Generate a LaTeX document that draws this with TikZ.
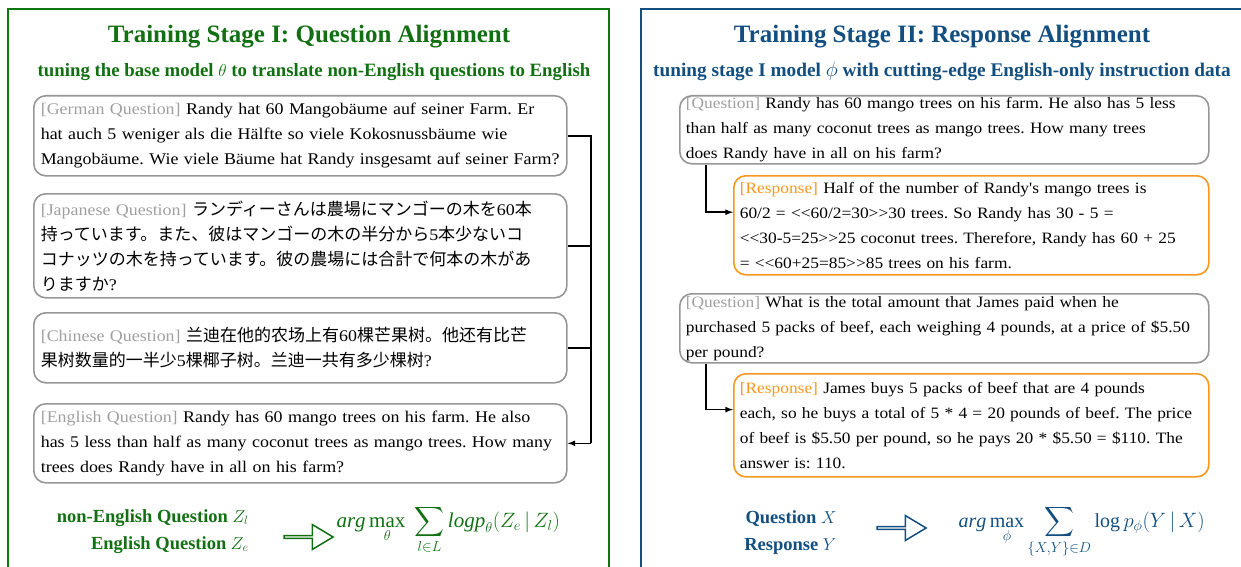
\documentclass[tikz,border=0pt]{standalone}
\usepackage{amsmath}
\usepackage{fontspec}
\setmainfont{Liberation Serif}
\newfontfamily\bodyfont[FakeStretch=1.1]{Liberation Serif}
\newfontfamily\jpfont{Noto Sans CJK JP}
\newfontfamily\scfont{Noto Sans CJK SC}
\usetikzlibrary{shapes.arrows,calc}
\definecolor{sgreen}{RGB}{18,112,18}
\definecolor{sframe}{RGB}{10,120,10}
\definecolor{sblue}{RGB}{18,78,128}
\definecolor{qgray}{RGB}{150,150,150}
\definecolor{lgray}{RGB}{160,160,160}
\definecolor{rorange}{RGB}{246,152,30}
\newcommand{\lab}[1]{{\color{lgray}[#1]}}
\newcommand{\olab}[1]{{\color{rorange}[#1]}}
\newcommand{\jp}[1]{{\jpfont\fontsize{17}{25}\selectfont #1}}
\newcommand{\zh}[1]{{\scfont\fontsize{17}{25}\selectfont #1}}
\frenchspacing
\begin{document}
\begin{tikzpicture}[x=1pt,y=-1pt,
  qbox/.style={draw=qgray,line width=1.6pt,rounded corners=12pt,anchor=north west,
    inner xsep=7pt,inner ysep=0pt,align=left,font=\bodyfont\fontsize{16.3}{25}\selectfont},
  qboxr/.style={qbox,inner xsep=6pt,font=\bodyfont\fontsize{15.8}{25}\selectfont},
  rbox/.style={qboxr,draw=rorange},
  link/.style={line width=1.6pt,black},
  ttl/.style={font=\bfseries\fontsize{25}{28}\selectfont},
  sub/.style={font=\bfseries\fontsize{18.8}{20}\selectfont},
  eqn/.style={font=\fontsize{21}{24}\selectfont},
  vlab/.style={font=\bfseries\fontsize{18.5}{20}\selectfont},
  harrow/.style={single arrow,draw,fill=white,line width=1.5pt,minimum height=49pt,minimum width=25pt,
    single arrow head extend=6.5pt,single arrow tip angle=62,inner sep=0pt}]
\useasboundingbox (0,0) rectangle (1241,567);
\clip (0,0) rectangle (1241,567);
% frames
\draw[sframe,line width=2.6pt] (8,9) rectangle (609,600);
\draw[sblue,line width=2.6pt] (641,9) rectangle (1270,600);
% titles
\node[ttl,sgreen] (t1) at (309,37) {Training Stage I: Question Alignment};
\node[sub,sgreen] (s1) at (314,72) {tuning the base model $\theta$ to translate non-English questions to English};
\node[ttl,sblue] (t2) at (942,37) {Training Stage II: Response Alignment};
\node[sub,sblue,font=\bfseries\fontsize{19.3}{20}\selectfont] (s2) at (942,71) {tuning stage I model $\phi$ with cutting-edge English-only instruction data};
% left boxes
\node[qbox,minimum width=533pt,minimum height=80pt,text width=519pt] (ger) at (33,95)
{\lab{German Question} Randy hat 60 Mangobäume auf seiner Farm. Er\\
hat auch 5 weniger als die Hälfte so viele Kokosnussbäume wie\\
Mangobäume. Wie viele Bäume hat Randy insgesamt auf seiner Farm?};
\node[qbox,minimum width=533pt,minimum height=104pt,text width=519pt] (jap) at (33,193)
{\lab{Japanese Question} \jp{ランディーさんは農場にマンゴーの木を}60\jp{本}\\
\jp{持っています。また、彼はマンゴーの木の半分から}5\jp{本少ないコ}\\
\jp{コナッツの木を持っています。彼の農場には合計で何本の木があ}\\
\jp{りますか}?};
\node[qbox,minimum width=533pt,minimum height=70pt,text width=519pt] (chi) at (33,312)
{\lab{Chinese Question} \zh{兰迪在他的农场上有}60\zh{棵芒果树。他还有比芒}\\
\zh{果树数量的一半少}5\zh{棵椰子树。兰迪一共有多少棵树}?};
\node[qbox,minimum width=533pt,minimum height=79pt,text width=519pt] (eng) at (33,403)
{\lab{English Question} Randy has 60 mango trees on his farm. He also\\
has 5 less than half as many coconut trees as mango trees. How many\\
trees does Randy have in all on his farm?};
\coordinate (trunk) at (591,0);
\draw[link] (ger.east) -- (ger.east -| trunk) -- (eng.east -| trunk);
\draw[link] (jap.east) -- (jap.east -| trunk);
\draw[link] (chi.east) -- (chi.east -| trunk);
\draw[link,-latex] (eng.east -| trunk) -- (eng.east);
% right boxes
\node[qboxr,minimum width=529pt,minimum height=68pt,text width=517pt] (q1) at (679,95)
{\lab{Question} Randy has 60 mango trees on his farm. He also has 5 less\\
than half as many coconut trees as mango trees. How many trees\\
does Randy have in all on his farm?};
\node[rbox,minimum width=475pt,minimum height=99pt,text width=463pt] (r1) at (733,175)
{\olab{Response} Half of the number of Randy's mango trees is\\
60/2 = <{}<60/2=30>{}>30 trees. So Randy has 30 - 5 =\\
<{}<30-5=25>{}>25 coconut trees. Therefore, Randy has 60 + 25\\
= <{}<60+25=85>{}>85 trees on his farm.};
\node[qboxr,minimum width=529pt,minimum height=69pt,text width=517pt] (q2) at (679,293)
{\lab{Question} What is the total amount that James paid when he\\
purchased 5 packs of beef, each weighing 4 pounds, at a price of \$5.50\\
per pound?};
\node[rbox,minimum width=475pt,minimum height=103pt,text width=463pt] (r2) at (733,373)
{\olab{Response} James buys 5 packs of beef that are 4 pounds\\
each, so he buys a total of 5 * 4 = 20 pounds of beef. The price\\
of beef is \$5.50 per pound, so he pays 20 * \$5.50 = \$110. The\\
answer is: 110.};
\coordinate (k1) at ($(q1.south west)+(27,0)$);
\coordinate (e1) at ($(r1.north west)!0.37!(r1.south west)$);
\draw[link,-latex] (k1) |- (e1);
\coordinate (k2) at ($(q2.south west)+(27,0)$);
\coordinate (e2) at ($(r2.north west)!0.35!(r2.south west)$);
\draw[link,-latex] (k2) |- (e2);
% bottom left
\node[vlab,sgreen,anchor=base east] (zl) at (252,522) {non-English Question $Z_l$};
\node[vlab,sgreen,anchor=base east] (ze) at (252,549) {English Question $Z_e$};
\node[harrow,draw=sgreen] (a1) at (307.5,537) {};
\node[eqn,sgreen,anchor=base west] (f1) at (333,527)
{$\displaystyle \mathit{arg}\max_{\theta}\;\sum_{l\in L}\mathit{logp}_{\theta}(Z_e\,|\,Z_l)$};
% bottom right
\node[vlab,sblue,anchor=base east] (qx) at (840,523) {Question $X$};
\node[vlab,sblue,anchor=base east] (ry) at (840,550) {Response $Y$};
\node[harrow,draw=sblue] (a2) at (900.5,528) {};
\node[eqn,sblue,anchor=base west,font=\fontsize{20}{24}\selectfont] (f2) at (955,527)
{$\displaystyle \mathit{arg}\max_{\phi}\sum_{\{X,Y\}\in D}\log p_{\phi}(Y\,|\,X)$};
\end{tikzpicture}
\end{document}
